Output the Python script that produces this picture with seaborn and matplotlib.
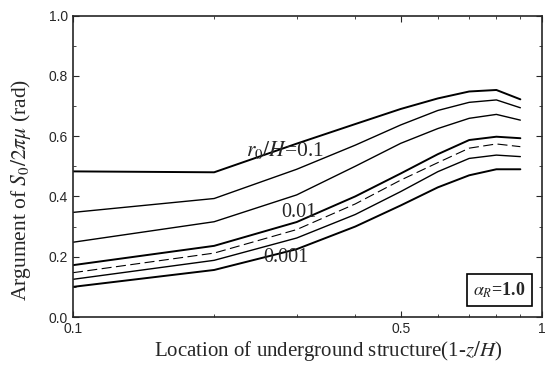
import numpy as np
import pandas as pd
import matplotlib
matplotlib.use("Agg")
import matplotlib.pyplot as plt
import seaborn as sns

# location of underground structure (1 - z/H)
location = [0.1, 0.2, 0.3, 0.4, 0.5, 0.6, 0.7, 0.8, 0.9]

# argument of S0/2*pi*mu (rad), top curve to bottom curve
arg_c1 = [0.483, 0.480, 0.575, 0.640, 0.690, 0.725, 0.748, 0.753, 0.722]
arg_c2 = [0.347, 0.393, 0.490, 0.570, 0.637, 0.685, 0.712, 0.720, 0.694]
arg_c3 = [0.248, 0.316, 0.405, 0.500, 0.576, 0.625, 0.659, 0.672, 0.653]
arg_c4 = [0.172, 0.236, 0.315, 0.400, 0.476, 0.540, 0.587, 0.598, 0.593]
arg_c5 = [0.147, 0.212, 0.290, 0.375, 0.454, 0.512, 0.560, 0.574, 0.565]
arg_c6 = [0.125, 0.188, 0.262, 0.340, 0.416, 0.482, 0.526, 0.537, 0.532]
arg_c7 = [0.100, 0.156, 0.225, 0.300, 0.370, 0.430, 0.470, 0.490, 0.490]

curve_names = ["c1", "c2", "c3", "c4", "c5", "c6", "c7"]
curve_vals = [arg_c1, arg_c2, arg_c3, arg_c4, arg_c5, arg_c6, arg_c7]

df = pd.DataFrame({
    "loc": location * len(curve_vals),
    "arg": sum(curve_vals, []),
    "curve": np.repeat(curve_names, len(location)),
})

sns.set_style("ticks")
plt.rcParams["font.family"] = ["Liberation Serif", "DejaVu Serif"]
plt.rcParams["mathtext.fontset"] = "stix"

fig = plt.figure(figsize=(5.47, 3.65), dpi=100)
ax = fig.add_axes([0.1335, 0.1315, 0.857, 0.826])

widths = {"c1": 1.4, "c2": 1.0, "c3": 1.0, "c4": 1.4, "c5": 0.8, "c6": 1.0, "c7": 1.4}
for name in curve_names:
    sub = df[df["curve"] == name]
    sns.lineplot(data=sub, x="loc", y="arg", ax=ax, color="black",
                 linewidth=widths[name], linestyle=(0, (9, 4)) if name == "c5" else "-",
                 legend=False)

ax.set_xscale("log")
ax.set_xlim(0.1, 1.0)
ax.set_ylim(0.0, 1.0)
ax.set_xticks([0.1, 0.5, 1.0])
ax.set_xticklabels(["0.1", "0.5", "1"])
ax.set_xticks([0.2, 0.3, 0.4, 0.6, 0.7, 0.8, 0.9], minor=True)
ax.xaxis.set_minor_formatter(matplotlib.ticker.NullFormatter())
ax.set_yticks([0.0, 0.2, 0.4, 0.6, 0.8, 1.0])
ax.set_yticklabels(["0.0", "0.2", "0.4", "0.6", "0.8", "1.0"])
ax.set_yticks([0.1, 0.3, 0.5, 0.7, 0.9], minor=True)
ax.tick_params(which="both", direction="in", top=True, right=True,
               labelsize=10, labelfontfamily="Liberation Sans")
ax.tick_params(which="major", length=4)
ax.tick_params(which="minor", length=2.5)
for s in ax.spines.values():
    s.set_linewidth(1.2)

ax.set_xlabel("Location of underground structure(1-$z/H$)", fontsize=15)
ax.set_ylabel("Argument of $S_0/2\\pi\\mu$ (rad)", fontsize=15.5)
ax.xaxis.set_label_coords(0.545, -0.072)
ax.yaxis.set_label_coords(-0.085, 0.42)

ax.text(0.234, 0.554, "$r_0/H$=0.1", fontsize=15.5, va="center")
ax.text(0.278, 0.345, "0.01", fontsize=14.5, va="center")
ax.text(0.255, 0.199, "0.001", fontsize=14.5, va="center")
ax.text(0.909, 0.088, "$\\boldsymbol{\\alpha_R}$=1.0", transform=ax.transAxes, fontsize=13,
        fontweight="bold", ha="center", va="center",
        bbox=dict(boxstyle="square,pad=0.35", facecolor="white", edgecolor="black", linewidth=1.2))

fig.savefig("out.png", dpi=100)
